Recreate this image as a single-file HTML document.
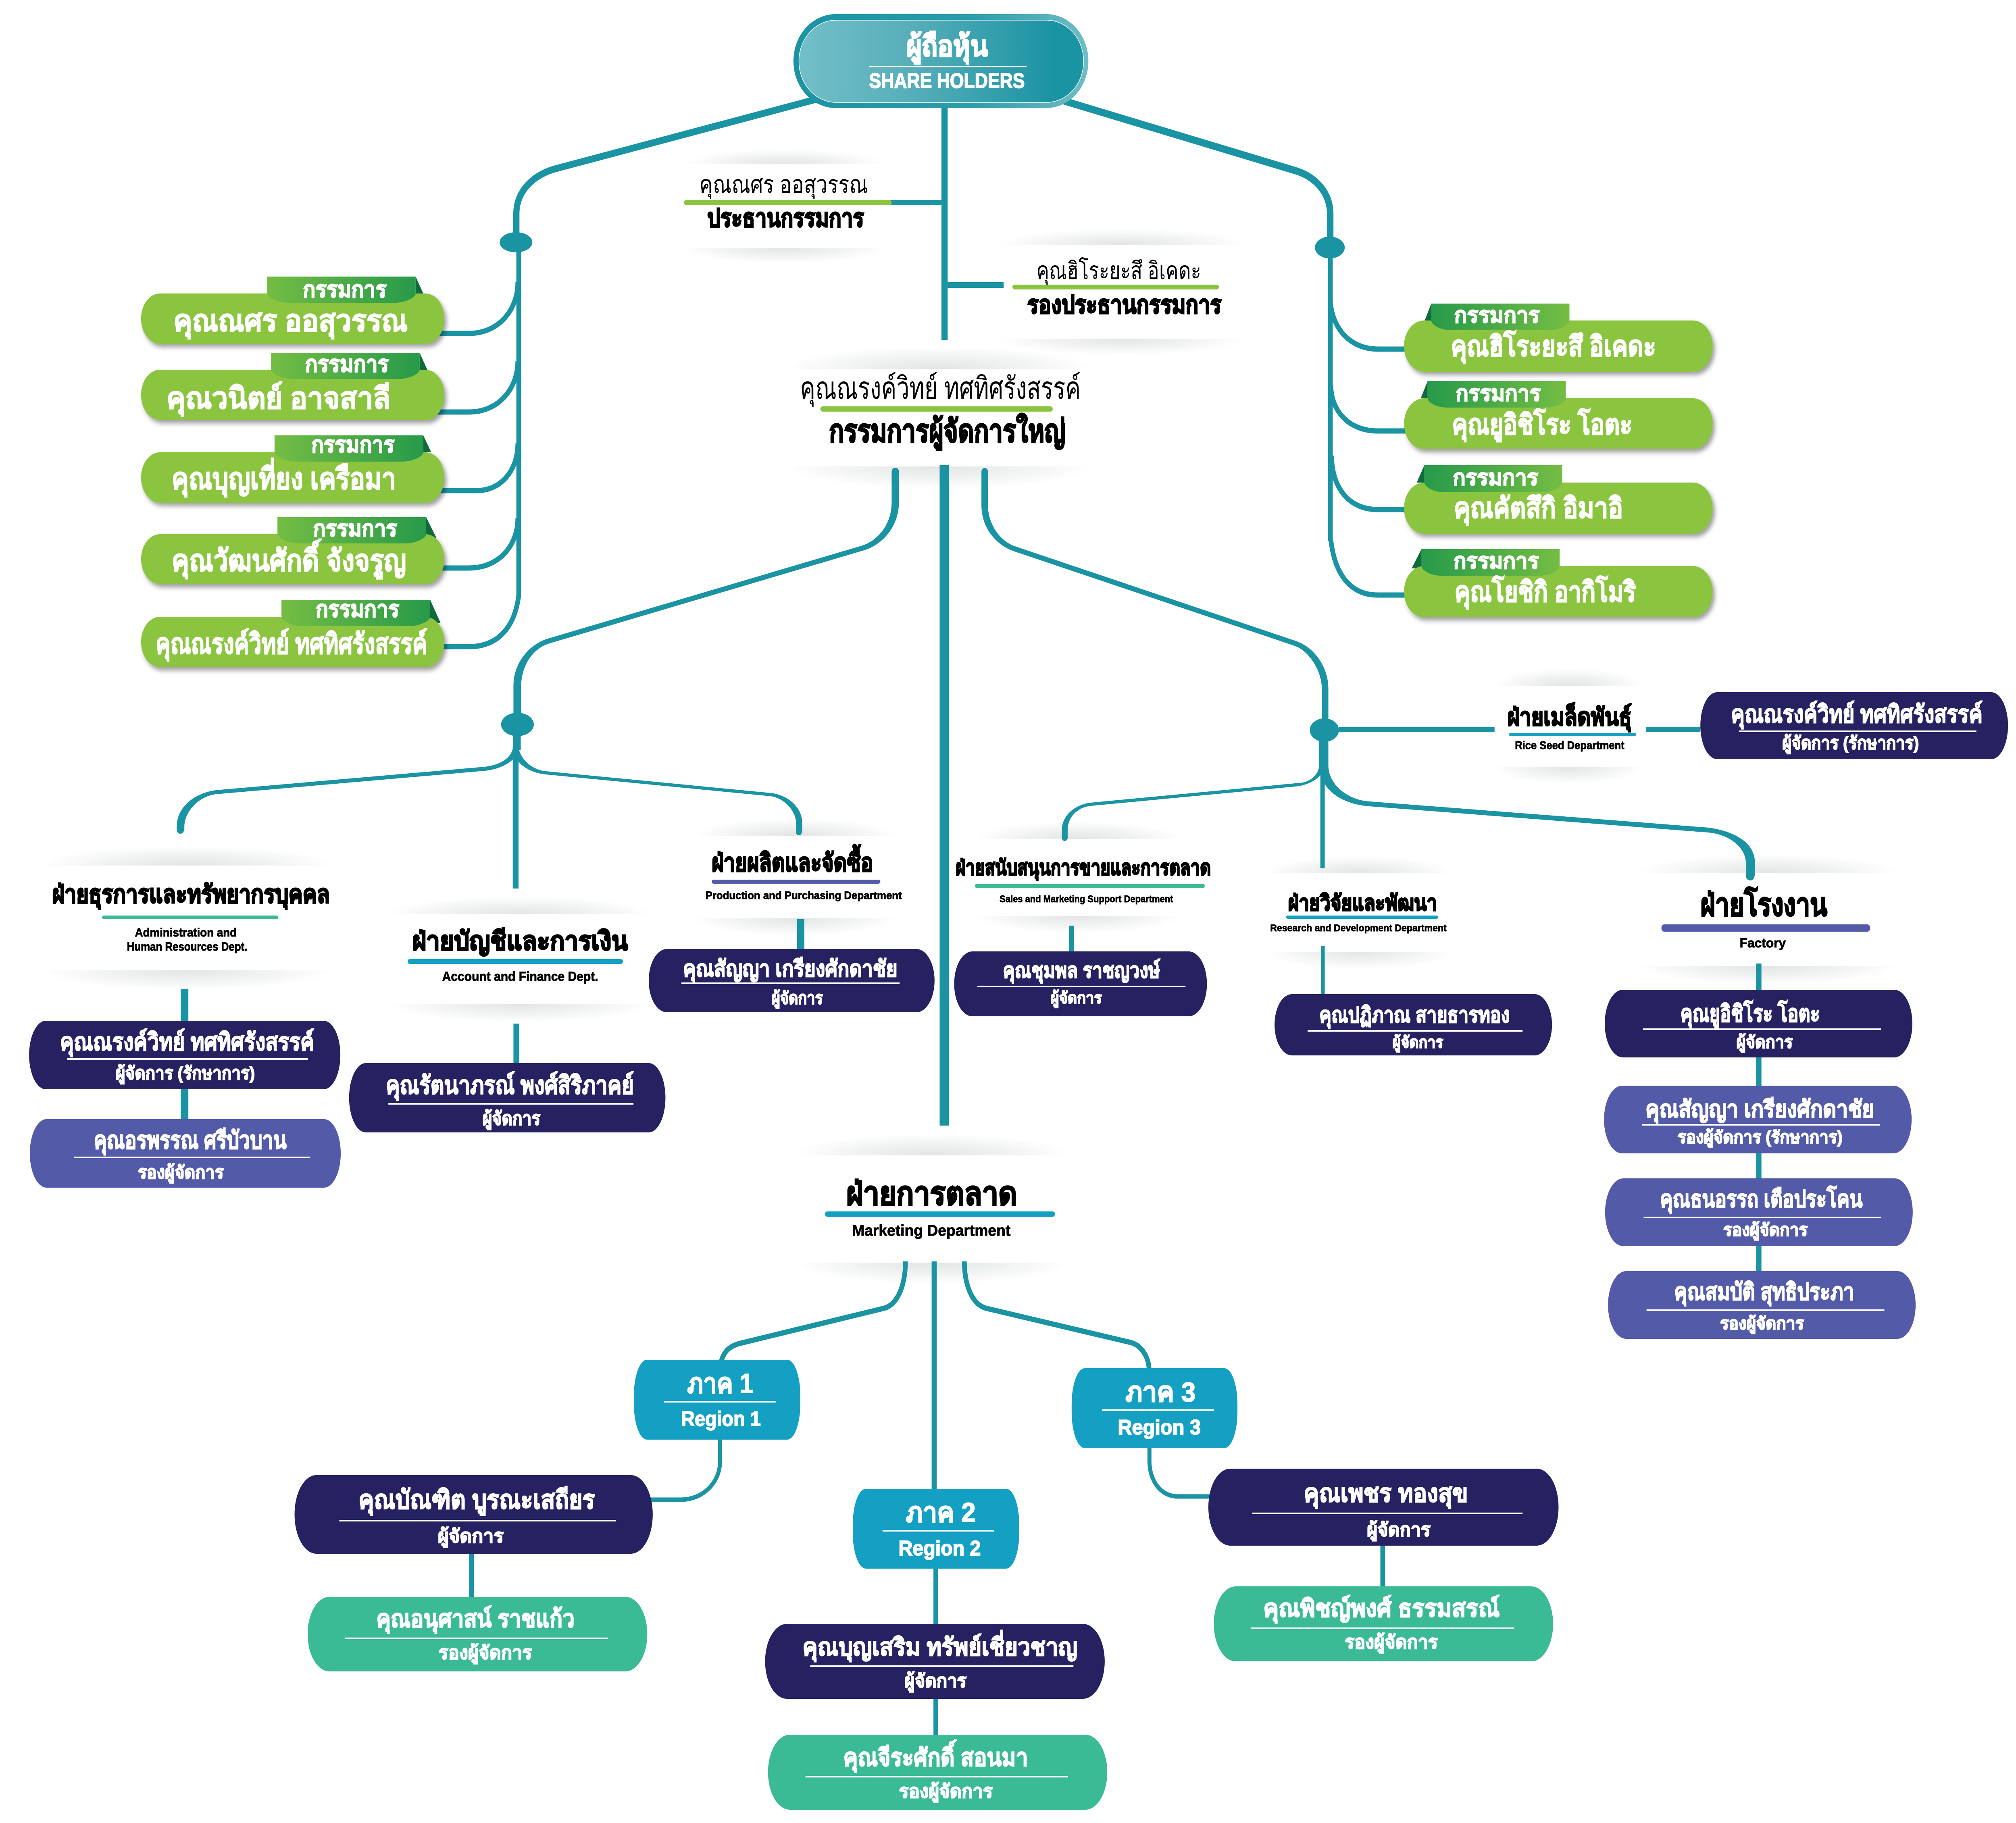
<!DOCTYPE html>
<html lang="th"><head><meta charset="utf-8"><title>Share Holders Org Chart</title>
<style>
html,body{margin:0;padding:0;background:#fff;width:100%;height:100%;overflow:hidden}
svg{display:block;width:100vw;height:100vh}
text{font-family:"Liberation Sans","Noto Sans CJK SC","DejaVu Sans",sans-serif;font-weight:700}
.w{fill:#fff;stroke:#fff;stroke-width:2}.k{fill:#000;stroke:#000;stroke-width:1}.h{stroke-width:3}.r{font-weight:400;stroke:none}
.l{fill:none;stroke:#1a93a3;stroke-linecap:butt;stroke-linejoin:round}
</style></head><body>
<svg xmlns="http://www.w3.org/2000/svg" viewBox="0 0 5544 4522" preserveAspectRatio="none">
<defs>
<radialGradient id="s"><stop offset="0" stop-color="#e3e5e5"/><stop offset=".55" stop-color="#f1f2f2"/><stop offset="1" stop-color="#fff"/></radialGradient>
<linearGradient id="p1" x1="0" x2="1"><stop offset="0" stop-color="#73bfc8"/><stop offset=".4" stop-color="#56aeb9"/><stop offset=".9" stop-color="#1a93a3"/></linearGradient>
<linearGradient id="p2" x1="0" x2="1"><stop offset="0" stop-color="#1a93a3"/><stop offset=".6" stop-color="#2c9cab"/><stop offset="1" stop-color="#6fbdc6"/></linearGradient>
<linearGradient id="tl" x1="0" x2="1"><stop offset="0" stop-color="#74bd44"/><stop offset="1" stop-color="#279a4a"/></linearGradient>
<linearGradient id="tr" x1="0" x2="1"><stop offset="0" stop-color="#279a4a"/><stop offset="1" stop-color="#74bd44"/></linearGradient>
<filter id="ds" x="-5%" y="-20%" width="112%" height="145%"><feDropShadow dx="6" dy="8" stdDeviation="6" flood-color="#000" flood-opacity=".38"/></filter>
</defs>
<rect width="5544" height="4522" fill="#fff"/>

<!-- soft shadows + white boxes -->
<ellipse cx="2157" cy="407" rx="283" ry="36" fill="url(#s)"/><ellipse cx="2157" cy="616" rx="283" ry="36" fill="url(#s)"/><rect x="1875" y="407" width="565" height="209" fill="#fff"/>
<ellipse cx="3088" cy="608" rx="342" ry="40" fill="url(#s)"/><ellipse cx="3088" cy="840" rx="342" ry="40" fill="url(#s)"/><rect x="2746" y="608" width="684" height="232" fill="#fff"/>
<ellipse cx="2581" cy="915" rx="424" ry="55" fill="url(#s)"/><ellipse cx="2581" cy="1157" rx="424" ry="55" fill="url(#s)"/><rect x="2157" y="915" width="848" height="242" fill="#fff"/>
<ellipse cx="4314" cy="1701" rx="208" ry="42" fill="url(#s)"/><ellipse cx="4314" cy="1902" rx="208" ry="42" fill="url(#s)"/><rect x="4106" y="1701" width="417" height="201" fill="#fff"/>
<ellipse cx="515" cy="2147" rx="406" ry="48" fill="url(#s)"/><ellipse cx="515" cy="2407" rx="406" ry="48" fill="url(#s)"/><rect x="109" y="2147" width="812" height="260" fill="#fff"/>
<ellipse cx="1430" cy="2268" rx="364" ry="44" fill="url(#s)"/><ellipse cx="1430" cy="2491" rx="364" ry="44" fill="url(#s)"/><rect x="1067" y="2268" width="727" height="223" fill="#fff"/>
<ellipse cx="2187" cy="2073" rx="280" ry="42" fill="url(#s)"/><ellipse cx="2187" cy="2278" rx="280" ry="42" fill="url(#s)"/><rect x="1908" y="2073" width="558" height="205" fill="#fff"/>
<ellipse cx="2965" cy="2081" rx="285" ry="42" fill="url(#s)"/><ellipse cx="2965" cy="2272" rx="285" ry="42" fill="url(#s)"/><rect x="2680" y="2081" width="570" height="191" fill="#fff"/>
<ellipse cx="3738" cy="2166" rx="258" ry="42" fill="url(#s)"/><ellipse cx="3738" cy="2361" rx="258" ry="42" fill="url(#s)"/><rect x="3480" y="2166" width="515" height="195" fill="#fff"/>
<ellipse cx="4862" cy="2166" rx="358" ry="46" fill="url(#s)"/><ellipse cx="4862" cy="2396" rx="358" ry="46" fill="url(#s)"/><rect x="4504" y="2166" width="717" height="230" fill="#fff"/>
<ellipse cx="2563" cy="2866" rx="382" ry="52" fill="url(#s)"/><ellipse cx="2563" cy="3132" rx="382" ry="52" fill="url(#s)"/><rect x="2181" y="2866" width="765" height="266" fill="#fff"/>

<!-- connectors top -->
<rect x="2589" y="268" width="17" height="575" fill="#1a93a3"/>
<rect x="2441" y="496" width="148" height="13" fill="#1a93a3"/>
<rect x="2606" y="700" width="154" height="14" fill="#1a93a3"/>
<path class="l" stroke-width="17" d="M2250 245L1530 418C1470 432 1420 472 1420 530V590"/>
<path class="l" stroke-width="18" d="M2925 250L3565 424C3620 440 3658 480 3658 530V600"/>
<rect x="1420" y="610" width="13" height="873" fill="#1a93a3"/>
<rect x="3652" y="625" width="13" height="717" fill="#1a93a3"/>
<ellipse cx="1419" cy="601" rx="45" ry="25" fill="#1a93a3"/>
<ellipse cx="3657" cy="614" rx="41" ry="27" fill="#1a93a3"/>
<!-- left director branches -->
<path class="l" stroke-width="13" d="M1205 827H1290C1370 827 1424 770 1424 700"/>
<path class="l" stroke-width="13" d="M1195 1022H1290C1370 1022 1424 965 1424 895"/>
<path class="l" stroke-width="13" d="M1205 1217H1310C1380 1217 1424 1165 1424 1100"/>
<path class="l" stroke-width="13" d="M1210 1409H1290C1370 1409 1424 1355 1424 1285"/>
<path class="l" stroke-width="13" d="M1210 1604H1290C1370 1604 1415 1555 1426 1480"/>
<!-- right director branches -->
<path class="l" stroke-width="13" d="M3870 866H3789C3710 866 3658 810 3658 735"/>
<path class="l" stroke-width="13" d="M3870 1069H3789C3710 1069 3660 1020 3660 955"/>
<path class="l" stroke-width="13" d="M3870 1264H3789C3710 1264 3662 1210 3662 1130"/>
<path class="l" stroke-width="13" d="M3870 1476H3789C3710 1476 3670 1420 3660 1340"/>

<!-- MD branches (tapered) -->
<rect x="2584" y="1154" width="25" height="1638" fill="#1a93a3"/>
<path fill="#1a93a3" d="M2452 1170H2472V1246C2472 1305 2428 1351 2376 1365L1511 1596C1466 1608 1433 1650 1433 1705V1790H1412V1700C1412 1645 1455 1598 1507 1584L2372 1353C2415 1340 2452 1300 2452 1246Z"/>
<circle cx="2462" cy="1170" r="10" fill="#1a93a3"/>
<path fill="#1a93a3" d="M2699 1170H2717V1254C2717 1300 2750 1342 2791 1355L3564 1590C3615 1606 3653 1655 3653 1708V1790H3635V1708C3635 1665 3600 1614 3560 1602L2787 1367C2740 1352 2699 1310 2699 1254Z"/>
<circle cx="2708" cy="1170" r="9" fill="#1a93a3"/>
<rect x="3628" y="1835" width="25" height="70" fill="#1a93a3"/>
<rect x="3682" y="1804" width="428" height="12" fill="#1a93a3"/>
<rect x="4526" y="1803" width="150" height="13" fill="#1a93a3"/>
<rect x="1411" y="1820" width="21" height="40" fill="#1a93a3"/>
<ellipse cx="1423" cy="1797" rx="45" ry="29" fill="#1a93a3"/>
<ellipse cx="3642" cy="1811" rx="40" ry="29" fill="#1a93a3"/>
<!-- left hub -->
<rect x="1410" y="1852" width="16" height="352" fill="#1a93a3"/>
<path fill="#1a93a3" d="M1411 1852C1408 1880 1375 1898 1333 1902L594 1960C530 1968 486 2005 486 2050V2058H507V2050C507 2015 545 1975 594 1970L1333 1912C1385 1907 1420 1885 1425 1860Z"/>
<circle cx="496" cy="2058" r="10" fill="#1a93a3"/>
<path fill="#1a93a3" d="M1425 1850C1430 1885 1465 1910 1501 1913L2119 1967C2170 1972 2206 2005 2206 2040V2064H2189V2040C2189 2015 2160 1980 2119 1975L1501 1921C1460 1917 1430 1900 1420 1880Z"/>
<circle cx="2197" cy="2064" r="8" fill="#1a93a3"/>
<!-- right hub -->
<rect x="3631" y="1899" width="12" height="255" fill="#1a93a3"/>
<path fill="#1a93a3" d="M3628 1899C3625 1925 3600 1943 3562 1943L3000 1991C2960 1995 2920 2020 2920 2060V2078H2936V2060C2936 2025 2965 2002 3000 1999L3562 1951C3600 1948 3630 1930 3636 1915Z"/>
<circle cx="2928" cy="2078" r="8" fill="#1a93a3"/>
<path fill="#1a93a3" d="M3630 1899H3653C3653 1945 3705 1985 3767 1988L4699 2053C4770 2062 4826 2090 4826 2140V2172H4801V2140C4801 2105 4760 2070 4697 2065L3765 2000C3700 1995 3650 1970 3632 1925Z"/>
<circle cx="4813" cy="2172" r="12" fill="#1a93a3"/>

<!-- department to manager stubs -->
<rect x="497" y="2454" width="21" height="323" fill="#1a93a3"/>
<rect x="1412" y="2539" width="16" height="100" fill="#1a93a3"/>
<rect x="2192" y="2280" width="20" height="76" fill="#1a93a3"/>
<rect x="2940" y="2296" width="13" height="66" fill="#1a93a3"/>
<rect x="3633" y="2346" width="10" height="122" fill="#1a93a3"/>
<rect x="4829" y="2390" width="15" height="770" fill="#1a93a3"/>

<!-- marketing branches -->
<rect x="2562" y="3129" width="14" height="566" fill="#1a93a3"/>
<path class="l" stroke-width="13" d="M2490 3129C2490 3185 2470 3235 2432 3245L2036 3332C2009 3338 1992 3350 1984 3375"/>
<path class="l" stroke-width="13" d="M2652 3129C2652 3185 2672 3235 2711 3245L3109 3330C3136 3336 3158 3362 3160 3396"/>
<rect x="2567" y="3889" width="12" height="416" fill="#1a93a3"/>
<path class="l" stroke-width="11" d="M1980 3569V3625C1980 3680 1930 3720 1873 3720H1785"/>
<path class="l" stroke-width="11" d="M3161 3590V3625C3161 3670 3190 3712 3239 3712H3330"/>
<rect x="1290" y="3852" width="13" height="111" fill="#1a93a3"/>
<rect x="3796" y="3832" width="13" height="105" fill="#1a93a3"/>

<!-- Share holders -->
<rect x="2182" y="35" width="811" height="233" rx="116" fill="url(#p2)"/>
<rect x="2197" y="50" width="783" height="204" rx="102" fill="url(#p1)" stroke="#fff" stroke-width="1.5"/>
<rect x="2390" y="163" width="433" height="4" rx="2" fill="#fff"/>
<text class="w" style="stroke-width:3" x="2493" y="139" font-size="72" textLength="224" lengthAdjust="spacingAndGlyphs">ผู้ถือหุ้น</text>
<text class="w" x="2390" y="218" font-size="52" textLength="428" lengthAdjust="spacingAndGlyphs">SHARE HOLDERS</text>

<!-- Chairman -->
<rect x="1881" y="496" width="571" height="13" rx="6" fill="#8bc53f"/>
<text class="k r" x="1923" y="478" font-size="60" textLength="464" lengthAdjust="spacingAndGlyphs">คุณณศร ออสุวรรณ</text>
<text class="k h" x="1945" y="562" font-size="62" textLength="431" lengthAdjust="spacingAndGlyphs">ประธานกรรมการ</text>
<rect x="2784" y="706" width="568" height="12" rx="6" fill="#8bc53f"/>
<text class="k r" x="2850" y="692" font-size="60" textLength="453" lengthAdjust="spacingAndGlyphs">คุณฮิโระยะสึ  อิเคดะ</text>
<text class="k h" x="2825" y="777" font-size="62" textLength="534" lengthAdjust="spacingAndGlyphs">รองประธานกรรมการ</text>
<rect x="2256" y="1008" width="639" height="13" rx="6" fill="#8bc53f"/>
<text class="k r" x="2200" y="989" font-size="76" textLength="772" lengthAdjust="spacingAndGlyphs">คุณณรงค์วิทย์ ทศทิศรังสรรค์</text>
<text class="k h" x="2280" y="1096" font-size="78" textLength="650" lengthAdjust="spacingAndGlyphs">กรรมการผู้จัดการใหญ่</text>

<!-- Left directors -->
<g>
<polygon points="1143,686 1164,728 1143,728" fill="#0f6b3c"/>
<rect x="388" y="728" width="834" height="125" rx="52" ry="62" fill="#8bc53f" filter="url(#ds)"/>
<path d="M734 686H1143V728C1143 738 1115 751 1085 751H795C760 751 734 738 734 725Z" fill="url(#tl)"/>
<text class="w" x="833" y="737" font-size="56" textLength="230" lengthAdjust="spacingAndGlyphs">กรรมการ</text>
<text class="w" x="477" y="821" font-size="74" textLength="644" lengthAdjust="spacingAndGlyphs">คุณณศร ออสุวรรณ</text>

<polygon points="1154,875 1175,917 1154,917" fill="#0f6b3c"/>
<rect x="388" y="917" width="834" height="125" rx="52" ry="62" fill="#8bc53f" filter="url(#ds)"/>
<path d="M745 875H1154V917C1154 927 1126 940 1096 940H806C771 940 745 927 745 914Z" fill="url(#tl)"/>
<text class="w" x="839" y="922" font-size="56" textLength="230" lengthAdjust="spacingAndGlyphs">กรรมการ</text>
<text class="w" x="458" y="1013" font-size="74" textLength="616" lengthAdjust="spacingAndGlyphs">คุณวนิตย์  อาจสาลี</text>

<polygon points="1164,1080 1186,1122 1164,1122" fill="#0f6b3c"/>
<rect x="388" y="1122" width="834" height="125" rx="52" ry="62" fill="#8bc53f" filter="url(#ds)"/>
<path d="M755 1080H1164V1122C1164 1132 1136 1145 1106 1145H816C781 1145 755 1132 755 1119Z" fill="url(#tl)"/>
<text class="w" x="856" y="1122" font-size="56" textLength="229" lengthAdjust="spacingAndGlyphs">กรรมการ</text>
<text class="w" x="472" y="1213" font-size="74" textLength="617" lengthAdjust="spacingAndGlyphs">คุณบุญเที่ยง เครือมา</text>

<polygon points="1172,1283 1200,1334 1172,1334" fill="#0f6b3c"/>
<rect x="388" y="1325" width="834" height="124" rx="52" ry="62" fill="#8bc53f" filter="url(#ds)"/>
<path d="M763 1283H1172V1325C1172 1335 1144 1348 1114 1348H824C789 1348 763 1335 763 1322Z" fill="url(#tl)"/>
<text class="w" x="861" y="1330" font-size="56" textLength="231" lengthAdjust="spacingAndGlyphs">กรรมการ</text>
<text class="w" x="472" y="1416" font-size="74" textLength="645" lengthAdjust="spacingAndGlyphs">คุณวัฒนศักดิ์ จังจรูญ</text>

<polygon points="1183,1488 1212,1546 1183,1546" fill="#0f6b3c"/>
<rect x="388" y="1530" width="834" height="125" rx="52" ry="62" fill="#8bc53f" filter="url(#ds)"/>
<path d="M774 1488H1183V1530C1183 1540 1155 1553 1125 1553H835C800 1553 774 1540 774 1527Z" fill="url(#tl)"/>
<text class="w" x="868" y="1530" font-size="56" textLength="230" lengthAdjust="spacingAndGlyphs">กรรมการ</text>
<text class="w" x="428" y="1621" font-size="70" textLength="747" lengthAdjust="spacingAndGlyphs">คุณณรงค์วิทย์ ทศทิศรังสรรค์</text>
</g>

<!-- Right directors -->
<g>
<polygon points="3936,753 3918,795 3936,795" fill="#0f6b3c"/>
<rect x="3861" y="795" width="849" height="127" rx="55" ry="63" fill="#8bc53f" filter="url(#ds)"/>
<path d="M3936 753H4316V795C4316 805 4290 819 4260 819H3990C3960 819 3936 805 3936 795Z" fill="url(#tr)"/>
<text class="w" x="3999" y="800" font-size="54" textLength="235" lengthAdjust="spacingAndGlyphs">กรรมการ</text>
<text class="w" x="3990" y="883" font-size="70" textLength="564" lengthAdjust="spacingAndGlyphs">คุณฮิโระยะสึ  อิเคดะ</text>

<polygon points="3926,945 3907,988 3926,988" fill="#0f6b3c"/>
<rect x="3861" y="988" width="849" height="126" rx="55" ry="63" fill="#8bc53f" filter="url(#ds)"/>
<path d="M3926 945H4306V988C4306 998 4280 1011 4250 1011H3980C3950 1011 3926 998 3926 988Z" fill="url(#tr)"/>
<text class="w" x="4003" y="994" font-size="54" textLength="234" lengthAdjust="spacingAndGlyphs">กรรมการ</text>
<text class="w" x="3993" y="1077" font-size="70" textLength="496" lengthAdjust="spacingAndGlyphs">คุณยูอิชิโระ  โอตะ</text>

<polygon points="3917,1154 3896,1197 3917,1197" fill="#0f6b3c"/>
<rect x="3861" y="1197" width="849" height="127" rx="55" ry="63" fill="#8bc53f" filter="url(#ds)"/>
<path d="M3917 1154H4296V1197C4296 1207 4270 1221 4240 1221H3971C3941 1221 3917 1207 3917 1197Z" fill="url(#tr)"/>
<text class="w" x="3995" y="1203" font-size="54" textLength="235" lengthAdjust="spacingAndGlyphs">กรรมการ</text>
<text class="w" x="3998" y="1284" font-size="70" textLength="465" lengthAdjust="spacingAndGlyphs">คุณคัตสึกิ อิมาอิ</text>

<polygon points="3909,1362 3882,1410 3909,1410" fill="#0f6b3c"/>
<rect x="3861" y="1404" width="849" height="127" rx="55" ry="63" fill="#8bc53f" filter="url(#ds)"/>
<path d="M3909 1362H4289V1404C4289 1414 4263 1428 4233 1428H3963C3933 1428 3909 1414 3909 1404Z" fill="url(#tr)"/>
<text class="w" x="3997" y="1410" font-size="54" textLength="235" lengthAdjust="spacingAndGlyphs">กรรมการ</text>
<text class="w" x="4000" y="1492" font-size="70" textLength="499" lengthAdjust="spacingAndGlyphs">คุณโยชิกิ อากิโมริ</text>
</g>

<!-- Department headings -->
<text class="k h" x="143" y="2239" font-size="62" textLength="764" lengthAdjust="spacingAndGlyphs">ฝ่ายธุรการและทรัพยากรบุคคล</text>
<rect x="281" y="2271" width="484" height="9" rx="4" fill="#3abb96"/>
<text class="k" x="371" y="2323" font-size="30" textLength="280" lengthAdjust="spacingAndGlyphs">Administration and</text>
<text class="k" x="349" y="2358" font-size="30" textLength="331" lengthAdjust="spacingAndGlyphs">Human Resources Dept.</text>

<text class="k h" x="1133" y="2356" font-size="64" textLength="594" lengthAdjust="spacingAndGlyphs">ฝ่ายบัญชีและการเงิน</text>
<rect x="1121" y="2379" width="592" height="12" rx="6" fill="#13a0c3"/>
<text class="k" x="1216" y="2433" font-size="32" textLength="429" lengthAdjust="spacingAndGlyphs">Account and Finance Dept.</text>

<text class="k h" x="1957" y="2161" font-size="62" textLength="444" lengthAdjust="spacingAndGlyphs">ฝ่ายผลิตและจัดซื้อ</text>
<rect x="1957" y="2182" width="464" height="10" rx="5" fill="#535ba8"/>
<text class="k" x="1940" y="2230" font-size="27" textLength="540" lengthAdjust="spacingAndGlyphs">Production and Purchasing Department</text>

<text class="k h" x="2628" y="2170" font-size="52" textLength="702" lengthAdjust="spacingAndGlyphs">ฝ่ายสนับสนุนการขายและการตลาด</text>
<rect x="2681" y="2193" width="632" height="9" rx="4" fill="#3abb96"/>
<text class="k" x="2749" y="2238" font-size="24" textLength="477" lengthAdjust="spacingAndGlyphs">Sales and Marketing Support Department</text>

<text class="k h" x="3542" y="2258" font-size="54" textLength="410" lengthAdjust="spacingAndGlyphs">ฝ่ายวิจัยและพัฒนา</text>
<rect x="3537" y="2271" width="418" height="8" rx="4" fill="#13a0c3"/>
<text class="k" x="3493" y="2310" font-size="24" textLength="485" lengthAdjust="spacingAndGlyphs">Research and Development Department</text>

<text class="k h" x="4676" y="2271" font-size="78" textLength="349" lengthAdjust="spacingAndGlyphs">ฝ่ายโรงงาน</text>
<rect x="4569" y="2293" width="574" height="18" rx="8" fill="#535ba8"/>
<text class="k" x="4784" y="2350" font-size="32" textLength="127" lengthAdjust="spacingAndGlyphs">Factory</text>

<text class="k h" x="4145" y="1799" font-size="60" textLength="342" lengthAdjust="spacingAndGlyphs">ฝ่ายเมล็ดพันธุ์</text>
<rect x="4150" y="1818" width="349" height="8" rx="4" fill="#13a0c3"/>
<text class="k" x="4166" y="1858" font-size="28" textLength="301" lengthAdjust="spacingAndGlyphs">Rice Seed Department</text>

<text class="k h" x="2327" y="2988" font-size="80" textLength="470" lengthAdjust="spacingAndGlyphs">ฝ่ายการตลาด</text>
<rect x="2269" y="3005" width="632" height="13" rx="6" fill="#13a0c3"/>
<text class="k" x="2343" y="3065" font-size="38" textLength="436" lengthAdjust="spacingAndGlyphs">Marketing Department</text>

<!-- Manager boxes -->
<rect x="4676" y="1717" width="846" height="166" rx="46" ry="83" fill="#262262"/>
<text class="w" x="4760" y="1792" font-size="60" textLength="692" lengthAdjust="spacingAndGlyphs">คุณณรงค์วิทย์ ทศทิศรังสรรค์</text>
<rect x="4782" y="1812" width="653" height="4" fill="#fff"/>
<text class="w" x="4901" y="1858" font-size="44" textLength="376" lengthAdjust="spacingAndGlyphs">ผู้จัดการ (รักษาการ)</text>

<rect x="80" y="2532" width="856" height="170" rx="46" ry="85" fill="#262262"/>
<text class="w" x="165" y="2605" font-size="60" textLength="699" lengthAdjust="spacingAndGlyphs">คุณณรงค์วิทย์ ทศทิศรังสรรค์</text>
<rect x="185" y="2625" width="662" height="4" fill="#fff"/>
<text class="w" x="318" y="2677" font-size="44" textLength="383" lengthAdjust="spacingAndGlyphs">ผู้จัดการ (รักษาการ)</text>

<rect x="82" y="2776" width="855" height="170" rx="46" ry="85" fill="#535ba8"/>
<text class="w" x="258" y="2849" font-size="60" textLength="530" lengthAdjust="spacingAndGlyphs">คุณอรพรรณ ศรีบัวบาน</text>
<rect x="204" y="2869" width="649" height="4" fill="#fff"/>
<text class="w" x="379" y="2923" font-size="44" textLength="236" lengthAdjust="spacingAndGlyphs">รองผู้จัดการ</text>

<rect x="960" y="2637" width="870" height="172" rx="46" ry="86" fill="#262262"/>
<text class="w" x="1061" y="2713" font-size="62" textLength="682" lengthAdjust="spacingAndGlyphs">คุณรัตนาภรณ์ พงศ์สิริภาคย์</text>
<rect x="1068" y="2736" width="674" height="4" fill="#fff"/>
<text class="w" x="1327" y="2790" font-size="46" textLength="159" lengthAdjust="spacingAndGlyphs">ผู้จัดการ</text>

<rect x="1784" y="2354" width="786" height="157" rx="50" ry="78" fill="#262262"/>
<text class="w" x="1878" y="2422" font-size="56" textLength="590" lengthAdjust="spacingAndGlyphs">คุณสัญญา เกรียงศักดาชัย</text>
<rect x="1874" y="2437" width="600" height="4" fill="#fff"/>
<text class="w" x="2122" y="2490" font-size="42" textLength="141" lengthAdjust="spacingAndGlyphs">ผู้จัดการ</text>

<rect x="2624" y="2360" width="695" height="161" rx="50" ry="80" fill="#262262"/>
<text class="w" x="2758" y="2425" font-size="52" textLength="432" lengthAdjust="spacingAndGlyphs">คุณชุมพล ราชญวงษ์</text>
<rect x="2687" y="2445" width="573" height="4" fill="#fff"/>
<text class="w" x="2889" y="2489" font-size="40" textLength="141" lengthAdjust="spacingAndGlyphs">ผู้จัดการ</text>

<rect x="3505" y="2466" width="763" height="152" rx="48" ry="76" fill="#262262"/>
<text class="w" x="3628" y="2536" font-size="54" textLength="524" lengthAdjust="spacingAndGlyphs">คุณปฏิภาณ สายธารทอง</text>
<rect x="3596" y="2555" width="591" height="4" fill="#fff"/>
<text class="w" x="3829" y="2599" font-size="40" textLength="140" lengthAdjust="spacingAndGlyphs">ผู้จัดการ</text>

<rect x="4413" y="2455" width="846" height="168" rx="50" ry="84" fill="#262262"/>
<text class="w" x="4621" y="2534" font-size="58" textLength="384" lengthAdjust="spacingAndGlyphs">คุณยูอิชิโระ โอตะ</text>
<rect x="4518" y="2551" width="655" height="4" fill="#fff"/>
<text class="w" x="4775" y="2599" font-size="42" textLength="155" lengthAdjust="spacingAndGlyphs">ผู้จัดการ</text>

<rect x="4411" y="2693" width="846" height="168" rx="50" ry="84" fill="#535ba8"/>
<text class="w" x="4525" y="2771" font-size="58" textLength="629" lengthAdjust="spacingAndGlyphs">คุณสัญญา เกรียงศักดาชัย</text>
<rect x="4516" y="2788" width="654" height="4" fill="#fff"/>
<text class="w" x="4613" y="2835" font-size="42" textLength="454" lengthAdjust="spacingAndGlyphs">รองผู้จัดการ (รักษาการ)</text>

<rect x="4414" y="2923" width="846" height="168" rx="50" ry="84" fill="#535ba8"/>
<text class="w" x="4565" y="2994" font-size="58" textLength="557" lengthAdjust="spacingAndGlyphs">คุณธนอรรถ เตือประโคน</text>
<rect x="4520" y="3018" width="653" height="4" fill="#fff"/>
<text class="w" x="4739" y="3065" font-size="42" textLength="232" lengthAdjust="spacingAndGlyphs">รองผู้จัดการ</text>

<rect x="4422" y="3153" width="846" height="168" rx="50" ry="84" fill="#535ba8"/>
<text class="w" x="4604" y="3224" font-size="58" textLength="495" lengthAdjust="spacingAndGlyphs">คุณสมบัติ สุทธิประภา</text>
<rect x="4528" y="3248" width="654" height="4" fill="#fff"/>
<text class="w" x="4730" y="3297" font-size="42" textLength="231" lengthAdjust="spacingAndGlyphs">รองผู้จัดการ</text>

<!-- Regions -->
<rect x="1743" y="3373" width="458" height="198" rx="36" ry="90" fill="#13a0c3"/>
<text class="w" x="1890" y="3455" font-size="68" textLength="181" lengthAdjust="spacingAndGlyphs">ภาค 1</text>
<rect x="1826" y="3475" width="307" height="4" fill="#fff"/>
<text class="w" x="1873" y="3537" font-size="52" textLength="219" lengthAdjust="spacingAndGlyphs">Region 1</text>

<rect x="2345" y="3693" width="458" height="198" rx="36" ry="90" fill="#13a0c3"/>
<text class="w" x="2491" y="3775" font-size="68" textLength="192" lengthAdjust="spacingAndGlyphs">ภาค 2</text>
<rect x="2427" y="3795" width="307" height="4" fill="#fff"/>
<text class="w" x="2471" y="3858" font-size="52" textLength="226" lengthAdjust="spacingAndGlyphs">Region 2</text>

<rect x="2947" y="3394" width="456" height="198" rx="36" ry="90" fill="#13a0c3"/>
<text class="w" x="3095" y="3476" font-size="68" textLength="193" lengthAdjust="spacingAndGlyphs">ภาค 3</text>
<rect x="3031" y="3496" width="307" height="4" fill="#fff"/>
<text class="w" x="3074" y="3558" font-size="52" textLength="228" lengthAdjust="spacingAndGlyphs">Region 3</text>

<!-- Marketing managers -->
<rect x="810" y="3659" width="985" height="195" rx="60" ry="97" fill="#262262"/>
<text class="w" x="986" y="3742" font-size="64" textLength="650" lengthAdjust="spacingAndGlyphs">คุณบัณฑิต บูรณะเสถียร</text>
<rect x="933" y="3770" width="761" height="4" fill="#fff"/>
<text class="w" x="1204" y="3826" font-size="46" textLength="181" lengthAdjust="spacingAndGlyphs">ผู้จัดการ</text>

<rect x="846" y="3961" width="934" height="185" rx="60" ry="92" fill="#3abb96"/>
<text class="w" x="1035" y="4036" font-size="60" textLength="545" lengthAdjust="spacingAndGlyphs">คุณอนุศาสน์ ราชแก้ว</text>
<rect x="949" y="4062" width="723" height="4" fill="#fff"/>
<text class="w" x="1206" y="4115" font-size="46" textLength="257" lengthAdjust="spacingAndGlyphs">รองผู้จัดการ</text>

<rect x="2104" y="4028" width="934" height="186" rx="60" ry="93" fill="#262262"/>
<text class="w" x="2207" y="4106" font-size="60" textLength="756" lengthAdjust="spacingAndGlyphs">คุณบุญเสริม ทรัพย์เชี่ยวชาญ</text>
<rect x="2228" y="4131" width="724" height="4" fill="#fff"/>
<text class="w" x="2487" y="4185" font-size="46" textLength="171" lengthAdjust="spacingAndGlyphs">ผู้จัดการ</text>

<rect x="2112" y="4303" width="933" height="186" rx="60" ry="93" fill="#3abb96"/>
<text class="w" x="2319" y="4380" font-size="60" textLength="508" lengthAdjust="spacingAndGlyphs">คุณจีระศักดิ์ สอนมา</text>
<rect x="2215" y="4405" width="722" height="4" fill="#fff"/>
<text class="w" x="2472" y="4459" font-size="46" textLength="258" lengthAdjust="spacingAndGlyphs">รองผู้จัดการ</text>

<rect x="3323" y="3643" width="963" height="191" rx="60" ry="95" fill="#262262"/>
<text class="w" x="3585" y="3725" font-size="62" textLength="452" lengthAdjust="spacingAndGlyphs">คุณเพชร ทองสุข</text>
<rect x="3443" y="3752" width="744" height="4" fill="#fff"/>
<text class="w" x="3759" y="3810" font-size="46" textLength="175" lengthAdjust="spacingAndGlyphs">ผู้จัดการ</text>

<rect x="3338" y="3935" width="933" height="186" rx="60" ry="93" fill="#3abb96"/>
<text class="w" x="3474" y="4010" font-size="60" textLength="650" lengthAdjust="spacingAndGlyphs">คุณพิชญ์พงศ์ ธรรมสรณ์</text>
<rect x="3441" y="4037" width="722" height="4" fill="#fff"/>
<text class="w" x="3698" y="4089" font-size="46" textLength="256" lengthAdjust="spacingAndGlyphs">รองผู้จัดการ</text>
</svg>
</body></html>
